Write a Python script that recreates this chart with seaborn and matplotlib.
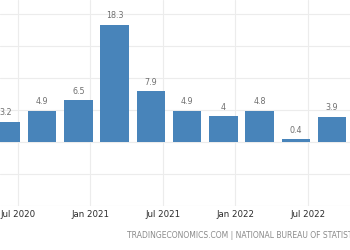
import matplotlib
matplotlib.use("Agg")
import matplotlib.pyplot as plt
import seaborn as sns
import pandas as pd

# ---- data ----
quarters = ["2020-06", "2020-09", "2020-12", "2021-03", "2021-06",
            "2021-09", "2021-12", "2022-03", "2022-06", "2022-09"]
gdp_growth = [3.2, 4.9, 6.5, 18.3, 7.9, 4.9, 4.0, 4.8, 0.4, 3.9]
tick_dates = ["2020-07", "2021-01", "2021-07", "2022-01", "2022-07"]
tick_labels = ["Jul 2020", "Jan 2021", "Jul 2021", "Jan 2022", "Jul 2022"]
y_grid = [-10, -5, 0, 5, 10, 15, 20]
source = "TRADINGECONOMICS.COM | NATIONAL BUREAU OF STATISTICS OF CHINA"


def month_index(s):
    y, m = s.split("-")
    return (int(y) - 2020) * 12 + int(m) - 1


df = pd.DataFrame({"month": [month_index(q) for q in quarters],
                   "value": gdp_growth})

sns.set_theme(style="white")
plt.rcParams["font.family"] = ["DejaVu Sans"]

fig = plt.figure(figsize=(3.5, 2.5), dpi=100)
ax = fig.add_axes([0, 44 / 250, 1, 206 / 250])

sns.barplot(data=df, x="month", y="value", native_scale=True, width=0.787,
            color="#4884BA", saturation=1, ax=ax, edgecolor="none")

ax.bar_label(ax.containers[0], fmt="%g", padding=3.5, fontsize=5.8,
             color="#707070")

ax.set_xlim(4.51, 33.48)
ax.set_ylim(-10, 22.2)
ax.set_xticks([month_index(t) for t in tick_dates])
ax.set_xticklabels(tick_labels)
ax.set_yticks(y_grid)
ax.set_yticklabels([])
ax.tick_params(axis="x", labelsize=6.2, colors="#2b2b2b", length=0, pad=3)
ax.tick_params(axis="y", length=0)
ax.grid(True, color="#ececec", linewidth=0.8)
ax.set_axisbelow(True)
for sp in ax.spines.values():
    sp.set_visible(False)
ax.set_xlabel("")
ax.set_ylabel("")

fig.text(127 / 350, 1 - 235 / 250, source, fontsize=5.5, color="#8a8a8a",
         ha="left", va="center")

fig.savefig("out.png", dpi=100)
